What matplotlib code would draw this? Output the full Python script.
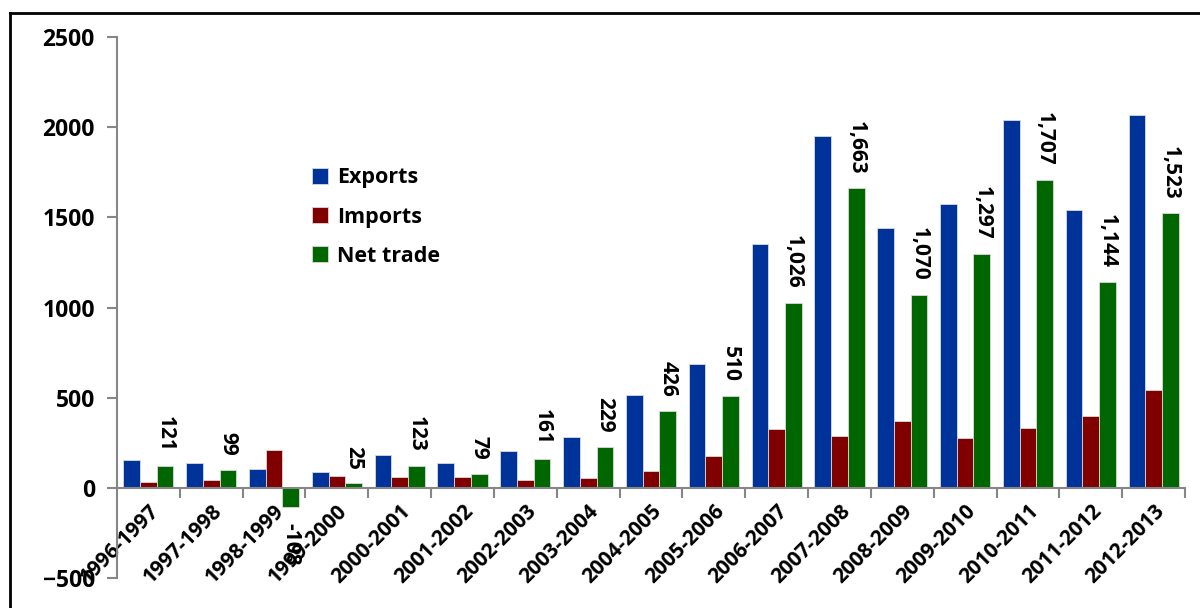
#!/usr/bin/env python3
"""Exports, imports and net trade by fiscal year, grouped bar chart."""

import matplotlib

matplotlib.use("Agg")
import matplotlib.pyplot as plt
import numpy as np
from matplotlib.lines import Line2D
from matplotlib.ticker import FixedLocator

plt.rcParams["font.family"] = ["Open Sans", "DejaVu Sans"]
plt.rcParams["font.weight"] = "bold"

years = [
    "1996-1997", "1997-1998", "1998-1999", "1999-2000", "2000-2001", "2001-2002",
    "2002-2003", "2003-2004", "2004-2005", "2005-2006", "2006-2007", "2007-2008",
    "2008-2009", "2009-2010", "2010-2011", "2011-2012", "2012-2013",
]
exports = [155, 140, 103, 89, 183, 140, 203, 284, 517, 684, 1350, 1952, 1439, 1574, 2041, 1541, 2067]
imports = [34, 41, 211, 64, 60, 61, 42, 55, 91, 174, 324, 289, 369, 277, 334, 397, 544]
net_trade = [121, 99, -108, 25, 123, 79, 161, 229, 426, 510, 1026, 1663, 1070, 1297, 1707, 1144, 1523]

BLUE = "#003399"
RED = "#800000"
GREEN = "#006600"
AXIS = "#868686"


def main() -> None:
    fig = plt.figure(figsize=(12.0, 6.08), dpi=100)
    ax = fig.add_axes([117 / 1200, 1 - 578 / 608, (1185 - 117) / 1200, (578 - 37) / 608])

    x = np.arange(len(years)) + 0.5
    width = 0.266
    edge = dict(edgecolor="#d9d9d9", linewidth=0.6)
    ax.bar(x - width, exports, width, color=BLUE, label="Exports", **edge)
    ax.bar(x, imports, width, color=RED, label="Imports", **edge)
    bars = ax.bar(x + width, net_trade, width, color=GREEN, label="Net trade", **edge)

    for rect, value in zip(bars, net_trade):
        cx = rect.get_x() + rect.get_width() / 2
        if value >= 0:
            ax.annotate(f"{value:,}", (cx, value), xytext=(0, 10), textcoords="offset points",
                        rotation=270, ha="center", va="bottom", fontsize=15, fontweight="bold")
        else:
            ax.annotate(f"{value:,}", (cx, value), xytext=(0, -11), textcoords="offset points",
                        rotation=270, ha="center", va="top", fontsize=15, fontweight="bold")

    ax.set_xlim(0, len(years))
    ax.set_ylim(-500, 2500)
    ax.set_yticks(np.arange(-500, 2501, 500))
    ax.tick_params(axis="y", labelsize=16.5, length=7, width=1.5, color=AXIS, pad=9)

    ax.spines["bottom"].set_position(("data", 0))
    ax.spines["bottom"].set_color(AXIS)
    ax.spines["bottom"].set_linewidth(1.5)
    ax.spines["bottom"].set_zorder(3)
    ax.set_xticks(x)
    ax.set_xticklabels(years, rotation=45, ha="right", va="top", rotation_mode="anchor", fontsize=15)
    ax.tick_params(axis="x", which="major", length=0, pad=9)
    ax.xaxis.set_minor_locator(FixedLocator(np.arange(1, len(years) + 1)))
    ax.tick_params(axis="x", which="minor", length=7, width=1.5, color=AXIS)

    for side in ("top", "right"):
        ax.spines[side].set_visible(False)
    ax.spines["left"].set_color(AXIS)
    ax.spines["left"].set_linewidth(1.5)
    ax.patch.set_visible(False)

    ax.legend(loc="upper left", bbox_to_anchor=(0.1645, 0.795), frameon=False, fontsize=15.5,
              handlelength=0.75, handleheight=0.75, handletextpad=0.4, labelspacing=0.85)

    # outer frame of the chart area
    fig.add_artist(Line2D([10 / 1200, 10 / 1200], [0, 1 - 13 / 608], color="black", linewidth=2))
    fig.add_artist(Line2D([10 / 1200, 1], [1 - 13 / 608, 1 - 13 / 608], color="black", linewidth=2))

    fig.savefig("out.png", dpi=100)
    plt.close(fig)


if __name__ == "__main__":
    main()
